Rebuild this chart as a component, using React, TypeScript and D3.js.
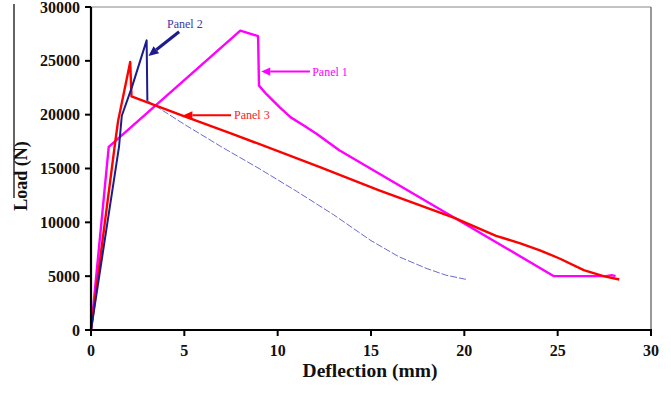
import React from "react";
import * as d3 from "d3";

// Panel 1 (magenta)
const panel1X = [0, 0.95, 8.0, 8.95, 9.0, 9.4, 10.1, 10.7, 11.4, 12.1, 13.3, 19.4, 24.8, 27.6, 27.9, 28.1];
const panel1Y = [0, 17000, 27800, 27300, 22700, 21900, 20700, 19750, 19000, 18200, 16700, 10500, 5000, 5000, 5100, 5000];

// Panel 2 (navy, solid part then dashed post-peak)
const panel2X = [0, 1.5, 1.65, 2.2, 2.98, 3.02];
const panel2Y = [0, 17000, 19900, 22600, 26900, 21300];
const panel2DashX = [3.02, 5, 7, 9, 11, 13, 15, 16.5, 18, 19, 20.1];
const panel2DashY = [21300, 19100, 17000, 15000, 12900, 10700, 8300, 6800, 5700, 5100, 4700];

// Panel 3 (red)
const panel3X = [0, 1.3, 1.45, 2.1, 2.17, 4.9, 7.6, 12.3, 15.4, 19.5, 21.7, 23.0, 24.05, 25.1, 26.4, 27.45, 28.3];
const panel3Y = [0, 17500, 19400, 24900, 21700, 19900, 18200, 15100, 13000, 10400, 8750, 8050, 7400, 6640, 5560, 5000, 4690];

const xTicks = [0, 5, 10, 15, 20, 25, 30];
const yTicks = [0, 5000, 10000, 15000, 20000, 25000, 30000];

const W = 671;
const H = 393;
const L = 91, R = 651, T = 7, B = 330;

const x = d3.scaleLinear().domain([0, 30]).range([L, R]);
const y = d3.scaleLinear().domain([0, 30000]).range([B, T]);

const line = d3
  .line<[number, number]>()
  .x((d) => x(d[0]))
  .y((d) => y(d[1]));

const zip = (a: number[], b: number[]) => a.map((v, i) => [v, b[i]] as [number, number]);

const FONT = "'Liberation Serif', 'Times New Roman', serif";

function Arrow({ x1, y1, x2, y2, color, width, head }: any) {
  const px1 = x(x1), py1 = y(y1), px2 = x(x2), py2 = y(y2);
  const ang = Math.atan2(py2 - py1, px2 - px1);
  const hl = head, hw = head * 0.45;
  const bx = px2 - Math.cos(ang) * hl, by = py2 - Math.sin(ang) * hl;
  const nx = -Math.sin(ang) * hw, ny = Math.cos(ang) * hw;
  return (
    <g>
      <line x1={px1} y1={py1} x2={bx} y2={by} stroke={color} strokeWidth={width} />
      <path d={`M${px2},${py2}L${bx + nx},${by + ny}L${bx - nx},${by - ny}Z`} fill={color} />
    </g>
  );
}

export default function App() {
  return (
    <svg
      width={W}
      height={H}
      style={{ position: "absolute", left: 0, top: 0, background: "#fff" }}
      fontFamily={FONT}
    >
      <rect x={0} y={0} width={W} height={H} fill="#fff" />
      {/* left frame artifact */}
      <line x1={14} y1={4} x2={14} y2={198} stroke="#111" strokeWidth={1.3} />

      {/* plot frame */}
      <line x1={L} y1={T} x2={R} y2={T} stroke="#888" strokeWidth={1.2} />
      <line x1={R} y1={T} x2={R} y2={B} stroke="#777" strokeWidth={1.5} />

      {/* data */}
      <path d={line(zip(panel2DashX, panel2DashY)) || ""} fill="none" stroke="#6a6ad0" strokeWidth={1} strokeDasharray="7,2" />
      <path d={line(zip(panel1X, panel1Y)) || ""} fill="none" stroke="#ff00ff" strokeWidth={2.4} strokeLinejoin="round" />
      <path d={line(zip(panel3X, panel3Y)) || ""} fill="none" stroke="#ff0000" strokeWidth={2.4} strokeLinejoin="round" />
      <path d={line(zip(panel2X, panel2Y)) || ""} fill="none" stroke="#1c1c8c" strokeWidth={2} strokeLinejoin="round" />

      {/* axes */}
      <line x1={L} y1={T} x2={L} y2={B + 1} stroke="#000" strokeWidth={2.2} />
      <line x1={L - 1} y1={B} x2={R + 1} y2={B} stroke="#000" strokeWidth={2.2} />
      {yTicks.map((t) => (
        <g key={"y" + t}>
          <line x1={L - 6} x2={L} y1={y(t)} y2={y(t)} stroke="#000" strokeWidth={2} />
          <text x={80} y={y(t)} dy="0.35em" textAnchor="end" fontSize={16} fontWeight="bold" fill="#111">
            {t}
          </text>
        </g>
      ))}
      {xTicks.map((t) => (
        <g key={"x" + t}>
          <line x1={x(t)} x2={x(t)} y1={B} y2={B + 6} stroke="#000" strokeWidth={2} />
          <text x={x(t)} y={356} textAnchor="middle" fontSize={16} fontWeight="bold" fill="#111">
            {t}
          </text>
        </g>
      ))}

      {/* axis titles */}
      <text x={370} y={377} textAnchor="middle" fontSize={19.5} fontWeight="bold" fill="#111">
        Deflection (mm)
      </text>
      <text
        transform={`translate(27,${176}) rotate(-90)`}
        textAnchor="middle"
        fontSize={18}
        fontWeight="bold"
        fill="#111"
      >
        Load (N)
      </text>

      {/* annotations */}
      <Arrow x1={11.73} y1={24000} x2={9.12} y2={24000} color="#ff00ff" width={2} head={9} />
      <text x={x(11.85)} y={y(24000)} dy="0.35em" fontSize={12} fill="#ff00ff">
        Panel 1
      </text>

      <Arrow x1={4.72} y1={27700} x2={3.08} y2={25450} color="#1c1c8c" width={3} head={10} />
      <text x={x(4.07)} y={y(28060)} fontSize={12} fill="#3a3aa8">
        Panel 2
      </text>

      <Arrow x1={7.5} y1={19950} x2={4.95} y2={19950} color="#ff0000" width={2} head={9} />
      <text x={x(7.66)} y={y(19950)} dy="0.35em" fontSize={12} fill="#ff2020">
        Panel 3
      </text>
    </svg>
  );
}
